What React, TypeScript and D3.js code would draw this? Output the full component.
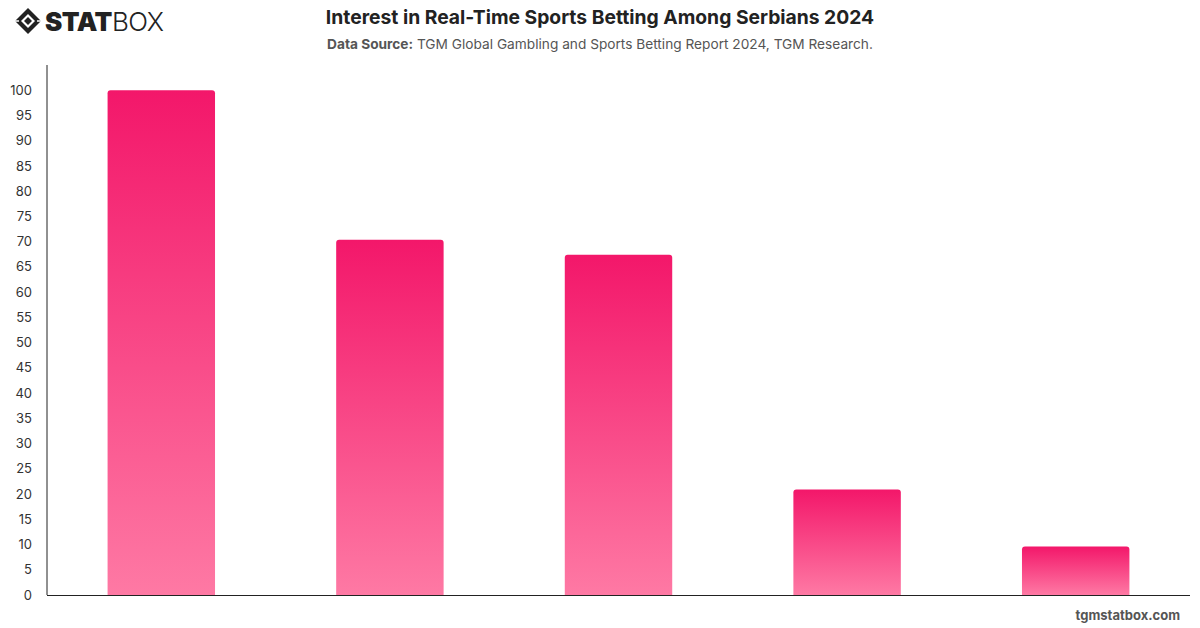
import React from "react";
import * as d3 from "d3";

const categories = ["A", "B", "C", "D", "E"];
const values = [100, 70.4, 67.4, 20.9, 9.6];
const yTicks = d3.range(0, 101, 5);

const W = 1200;
const H = 628;
const margin = {top: 65, right: 10, bottom: 33, left: 47};

export default function App() {
    const x = d3
        .scaleBand()
        .domain(categories)
        .range([margin.left, W - margin.right])
        .paddingInner(0.53)
        .paddingOuter(0.265);

    const y = d3
        .scaleLinear()
        .domain([0, 105])
        .range([H - margin.bottom, margin.top]);

    const barPath = (cx: number, top: number, w: number, bottom: number, r: number) =>
        `M${cx},${bottom}V${top + r}Q${cx},${top} ${cx + r},${top}H${cx + w - r}Q${cx + w},${top} ${cx + w},${top + r}V${bottom}Z`;

    return (
        <svg width={W} height={H} style={{position: "absolute", left: 0, top: 0, background: "#fff"}}
             fontFamily="Inter, 'Helvetica Neue', Arial, sans-serif">
            <defs>
                {values.map((v, i) => (
                    <linearGradient key={i} id={`g${i}`} x1="0" y1="0" x2="0" y2="1">
                        <stop offset="0%" stopColor="#f3176a"/>
                        <stop offset="100%" stopColor="#fe79a4"/>
                    </linearGradient>
                ))}
            </defs>

            {/* logo */}
            <g transform="translate(28,21)">
                <path d="M-13,0 L0,-13 L13,0 L0,13 Z" fill="#222"/>
                <path d="M-7,0 L0,-7 L7,0 L0,7 Z" fill="#fff"/>
                <path d="M-4,0 L0,-4 L4,0 L0,4 Z" fill="#222"/>
                <path d="M-13,0 L-9,0 M9,0 L13,0" stroke="#fff" strokeWidth={1.5}/>
            </g>
            <text x={45} y={31} fontSize={26} fontWeight={900} fill="#222" letterSpacing={-0.5}>STAT
                <tspan fontWeight={300}>BOX</tspan></text>

            <text x={600} y={24} textAnchor="middle" fontSize={19.3} fontWeight={700} fill="#222">
                Interest in Real-Time Sports Betting Among Serbians 2024
            </text>
            <text x={600} y={49} textAnchor="middle" fontSize={13.7} fill="#555">
                <tspan fontWeight={700}>Data Source:</tspan> TGM Global Gambling and Sports Betting Report 2024, TGM Research.
            </text>

            {/* y ticks */}
            {yTicks.map(t => (
                <text key={t} x={32} y={y(t)} dy="0.35em" textAnchor="end" fontSize={13} fill="#333">{t}</text>
            ))}

            {/* bars */}
            {values.map((v, i) => (
                <path key={i}
                      d={barPath(x(categories[i])!, y(v), x.bandwidth(), y(0), 3)}
                      fill={`url(#g${i})`}/>
            ))}

            {/* axes */}
            <line x1={margin.left} x2={margin.left} y1={margin.top} y2={y(0)} stroke="#222" strokeWidth={1}/>
            <line x1={margin.left} x2={W - margin.right} y1={y(0) + 0.5} y2={y(0) + 0.5} stroke="#222" strokeWidth={1}/>

            <text x={1180} y={620} textAnchor="end" fontSize={13} fontWeight={700} fill="#555">tgmstatbox.com</text>
        </svg>
    );
}
